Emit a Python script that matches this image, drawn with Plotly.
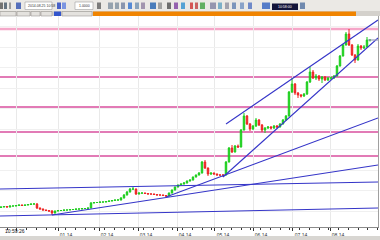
import plotly.graph_objects as go

W, H = 380, 240

# ---------------- data (price units) ----------------
opens = [22.5, 23, 23.5, 23, 24, 24, 24.5, 25, 24.5, 25, 25.5, 26,
         26, 22, 21, 20, 19.5, 19, 17, 19, 19.5, 19.5, 20, 20, 20.5, 20.5, 21, 21, 21.5, 21.5,
         22, 27, 27.5, 27.5, 28, 28, 28.5, 29, 29.5, 30,
         30, 32, 35, 38, 41, 41, 36, 37, 37, 36.5, 36, 36, 35.5, 35, 35, 34.5,
         34, 37, 40, 43, 45, 46, 47, 49, 50, 53, 55, 57, 68, 62, 56, 57, 56, 55, 55,
         55, 68, 82, 78, 84, 83, 100, 114, 106, 101, 104, 110, 105, 100, 102, 103, 102, 104,
         103, 106, 110, 114, 138, 146, 137, 135, 134, 136, 148, 158, 152, 154, 151, 153, 150, 152, 152,
         154, 164, 174, 185, 196, 185, 175, 170, 184, 182, 183, 190]
highs = [23.5, 24, 24, 24.5, 24.5, 25, 25.5, 25.5, 25.5, 26, 26.5, 27,
         27, 22.5, 21.5, 20.5, 20, 20, 19.5, 20, 20, 20.5, 20.5, 21, 21, 21.5, 21.5, 22, 22, 22.5,
         28, 28, 28, 28.5, 28.5, 29, 29.5, 30, 30.5, 31,
         33, 36, 39, 42, 43, 41.5, 37.5, 37.5, 37.5, 37, 36.5, 36.5, 36, 35.5, 35.5, 35,
         37.5, 40.5, 43.5, 45.5, 46.5, 48, 49.5, 50.5, 53.5, 55.5, 58, 69, 70, 62.5, 57.5, 57.5, 56.5, 55.5, 55.5,
         69, 83, 85, 85, 85.5, 101, 117, 115, 107, 105, 112, 111, 106, 103, 104, 104, 105, 105,
         107, 111, 115, 139, 152, 147, 138, 136, 137, 149, 163, 160, 156, 155, 154, 154, 153, 153.5, 155,
         165, 175, 186, 198, 201, 186, 176, 186, 185, 185, 193, 191]
lows = [22, 22.5, 22.5, 22.5, 23.5, 23.5, 24, 24, 24, 24.5, 25, 25.5,
        21, 20.5, 19.5, 19, 18, 15, 16.5, 18.5, 19, 19, 19.5, 19.5, 20, 20, 20.5, 20.5, 21, 21,
        21.5, 26.5, 27, 27, 27.5, 27.5, 28, 28.5, 29, 29.5,
        29.5, 31.5, 34.5, 37.5, 40, 35, 35.5, 36, 36, 35.5, 35.5, 35, 34.5, 34.5, 34, 33,
        33.5, 36.5, 39.5, 42.5, 44.5, 45.5, 46.5, 48.5, 49.5, 52.5, 54.5, 56.5, 61, 54, 55, 55.5, 54.5, 54, 53,
        54.5, 67.5, 77, 77.5, 82, 82.5, 99.5, 105, 99, 100, 103, 104, 98, 97, 101, 100.5, 101, 102,
        102.5, 105.5, 109.5, 113.5, 137, 135, 132, 132.5, 133, 135, 147, 151, 150, 149, 147, 149, 149, 150, 151,
        153.5, 163.5, 173.5, 184.5, 184, 174, 167, 169.5, 180, 181, 182.5, 188.5]
closes = [23, 23.5, 23, 24, 24, 24.5, 25, 24.5, 25, 25.5, 26, 26,
          22, 21, 20, 19.5, 19, 17, 19, 19.5, 19.5, 20, 20, 20.5, 20.5, 21, 21, 21.5, 21.5, 22,
          27, 27.5, 27.5, 28, 28, 28.5, 29, 29.5, 30, 30,
          32, 35, 38, 41, 41, 36, 37, 37, 36.5, 36, 36, 35.5, 35, 35, 34.5, 34,
          37, 40, 43, 45, 46, 47, 49, 50, 53, 55, 57, 68, 62, 56, 57, 56, 55, 55, 55,
          68, 82, 78, 84, 83, 100, 114, 106, 101, 104, 110, 105, 100, 102, 103, 102, 104, 103,
          106, 110, 114, 138, 146, 137, 135, 134, 136, 148, 158, 152, 154, 151, 153, 150, 152, 152, 154,
          164, 174, 185, 196, 185, 175, 170, 184, 182, 183, 190, 190]
bar_index = list(range(len(closes)))

# horizontal support / resistance levels
level_main = 201
levels = [153, 123, 98, 74]

# trend lines: (x0, y0, x1, y1) in (bar index, price)
trendlines = [
    (-0.333, 41, 125.667, 48),
    (17, 15, 125.667, 65),
    (-0.333, 14, 125.667, 22),
    (55, 33, 125.667, 112),
    (74, 53, 125.667, 192),
    (75, 106, 125.667, 210),
]
last_price_line = (122.3, 190, 125.667, 190)

# month axis
month_pos = [5.33, 19, 32.67, 45.67, 58.67, 71.33, 84, 97.33, 109.67]
month_text = ["", "01.14", "02.14", "03.14", "04.14", "05.14", "06.14", "07.14", "08.14"]

# ---------------- figure ----------------
def X(px):
    return px / W


def Y(py):
    return 1 - py / H


fig = go.Figure()
fig.add_trace(go.Candlestick(
    x=bar_index, open=opens, high=highs, low=lows, close=closes,
    increasing=dict(line=dict(color="#1ccc1c", width=1), fillcolor="#22dd22"),
    decreasing=dict(line=dict(color="#ee2222", width=1), fillcolor="#f02a2a"),
    whiskerwidth=0, hoverinfo="skip", showlegend=False,
))

shapes = []
# level lines
shapes.append(dict(type="line", xref="paper", yref="y", x0=0, x1=X(378),
                   y0=level_main, y1=level_main, line=dict(color="#f5a6c8", width=2.5), layer="below"))
for lv in levels:
    shapes.append(dict(type="line", xref="paper", yref="y", x0=0, x1=X(378),
                       y0=lv, y1=lv, line=dict(color="#d84f9e", width=1.4), layer="below"))
for (a, b, c, d) in trendlines:
    shapes.append(dict(type="line", xref="x", yref="y", x0=a, y0=b, x1=c, y1=d,
                       line=dict(color="#3535c8", width=1.1)))
a, b, c, d = last_price_line
shapes.append(dict(type="line", xref="x", yref="y", x0=a, y0=b, x1=c, y1=d,
                   line=dict(color="#9a9ac0", width=1.2)))

# ---- toolbar (decoration) ----
shapes.append(dict(type="rect", xref="paper", yref="paper", x0=0, x1=1, y0=Y(11), y1=1,
                   fillcolor="#ebe9e5", line=dict(width=0)))
shapes.append(dict(type="rect", xref="paper", yref="paper", x0=0, x1=1, y0=Y(16), y1=Y(11),
                   fillcolor="#d4d1cc", line=dict(width=0)))
shapes.append(dict(type="rect", xref="paper", yref="paper", x0=X(93), x1=X(356), y0=Y(16), y1=Y(11.5),
                   fillcolor="#f08400", line=dict(width=0)))
for (t0, t1) in [(0, 16), (17, 30), (31, 40), (41, 52), (62, 92)]:
    shapes.append(dict(type="rect", xref="paper", yref="paper", x0=X(t0), x1=X(t1), y0=Y(16), y1=Y(11.5),
                       fillcolor="#e4e2de", line=dict(color="#9a9894", width=0.6)))
shapes.append(dict(type="rect", xref="paper", yref="paper", x0=X(54), x1=X(61), y0=Y(16), y1=Y(11.5),
                   fillcolor="#3355cc", line=dict(width=0)))
icons = [(0, 3, "#555555"), (4, 7, "#445566"), (9, 11, "#888888"), (16, 21, "#3050b0"),
         (57, 61, "#2040c0"), (62, 66, "#6080e0"), (97, 101, "#606060"), (108, 113, "#8090a0"),
         (115, 119, "#8090a0"), (121, 125, "#7080a0"), (128, 132, "#3070d0"), (135, 139, "#7090b0"),
         (141, 145, "#9080a0"), (150, 156, "#2060b0"), (158, 162, "#909090"), (167, 171, "#505050"),
         (174, 178, "#8040a0"), (181, 185, "#3090d0"), (190, 193, "#d03030"), (195, 198, "#c04040"),
         (200, 205, "#40a040"), (210, 216, "#8080a0"), (218, 222, "#60a0c0"), (225, 229, "#9090a0"),
         (232, 236, "#6080b0"), (240, 244, "#7090c0"), (248, 252, "#5070c0"), (262, 270, "#3060c0"),
         (300, 305, "#5070a0")]
for (i0, i1, col) in icons:
    shapes.append(dict(type="rect", xref="paper", yref="paper", x0=X(i0), x1=X(i1), y0=Y(9), y1=Y(2.5),
                       fillcolor=col, line=dict(width=0), opacity=0.8))
for (f0, f1) in [(25, 52), (75, 93)]:
    shapes.append(dict(type="rect", xref="paper", yref="paper", x0=X(f0), x1=X(f1), y0=Y(9.5), y1=Y(2),
                       fillcolor="#ffffff", line=dict(color="#a0a0a0", width=0.6)))
shapes.append(dict(type="rect", xref="paper", yref="paper", x0=X(272), x1=X(298), y0=Y(10), y1=Y(3.5),
                   fillcolor="#14143a", line=dict(width=0)))
# bottom strip
shapes.append(dict(type="rect", xref="paper", yref="paper", x0=0, x1=1, y0=0, y1=Y(236),
                   fillcolor="#d8d6d2", line=dict(width=0)))

annotations = [
    dict(text="10:59:26", x=X(3), y=Y(230.5), xref="paper", yref="paper", xanchor="left", yanchor="middle",
         showarrow=False, font=dict(size=5, color="#111111", family="Liberation Sans")),
    dict(text="2014.08.25 10:58", x=X(26), y=Y(5.8), xref="paper", yref="paper", xanchor="left",
         yanchor="middle", showarrow=False, font=dict(size=3.5, color="#333333", family="Liberation Sans")),
    dict(text="1.0000", x=X(77), y=Y(5.8), xref="paper", yref="paper", xanchor="left",
         yanchor="middle", showarrow=False, font=dict(size=3.5, color="#333333", family="Liberation Sans")),
    dict(text="10:58:00", x=X(285), y=Y(6.8), xref="paper", yref="paper", xanchor="center",
         yanchor="middle", showarrow=False, font=dict(size=3.5, color="#ffffff", family="Liberation Sans")),
]

fig.update_layout(
    width=W, height=H, autosize=False,
    margin=dict(l=0, r=0, t=0, b=0, pad=0),
    paper_bgcolor="#ffffff", plot_bgcolor="#ffffff",
    showlegend=False,
    shapes=shapes, annotations=annotations,
    xaxis=dict(
        domain=[0, 378 / W], range=[-0.333, 125.667], rangeslider=dict(visible=False),
        tickmode="array", tickvals=month_pos, ticktext=month_text,
        showgrid=True, gridcolor="#e9e9e9", gridwidth=1, zeroline=False,
        showline=True, linecolor="#8a8a8a", linewidth=1,
        ticks="outside", ticklen=3, tickcolor="#333333", tickwidth=1,
        ticklabelshift=8, ticklabelstandoff=0,
        minor=dict(tickmode="linear", tick0=5.33, dtick=3.25, ticklen=2, tickcolor="#333333", showgrid=False),
        tickfont=dict(size=5, color="#333333", family="Liberation Sans"),
        fixedrange=True,
    ),
    yaxis=dict(
        domain=[1 - 227 / H, 1 - 16 / H], range=[3, 214], side="right",
        showticklabels=False, showgrid=True, gridcolor="#f0f0f0", tick0=19, dtick=20.5,
        zeroline=False, showline=True, linecolor="#a0a0a0", linewidth=1, ticks="",
        fixedrange=True,
    ),
)

fig.write_html("out.html")
